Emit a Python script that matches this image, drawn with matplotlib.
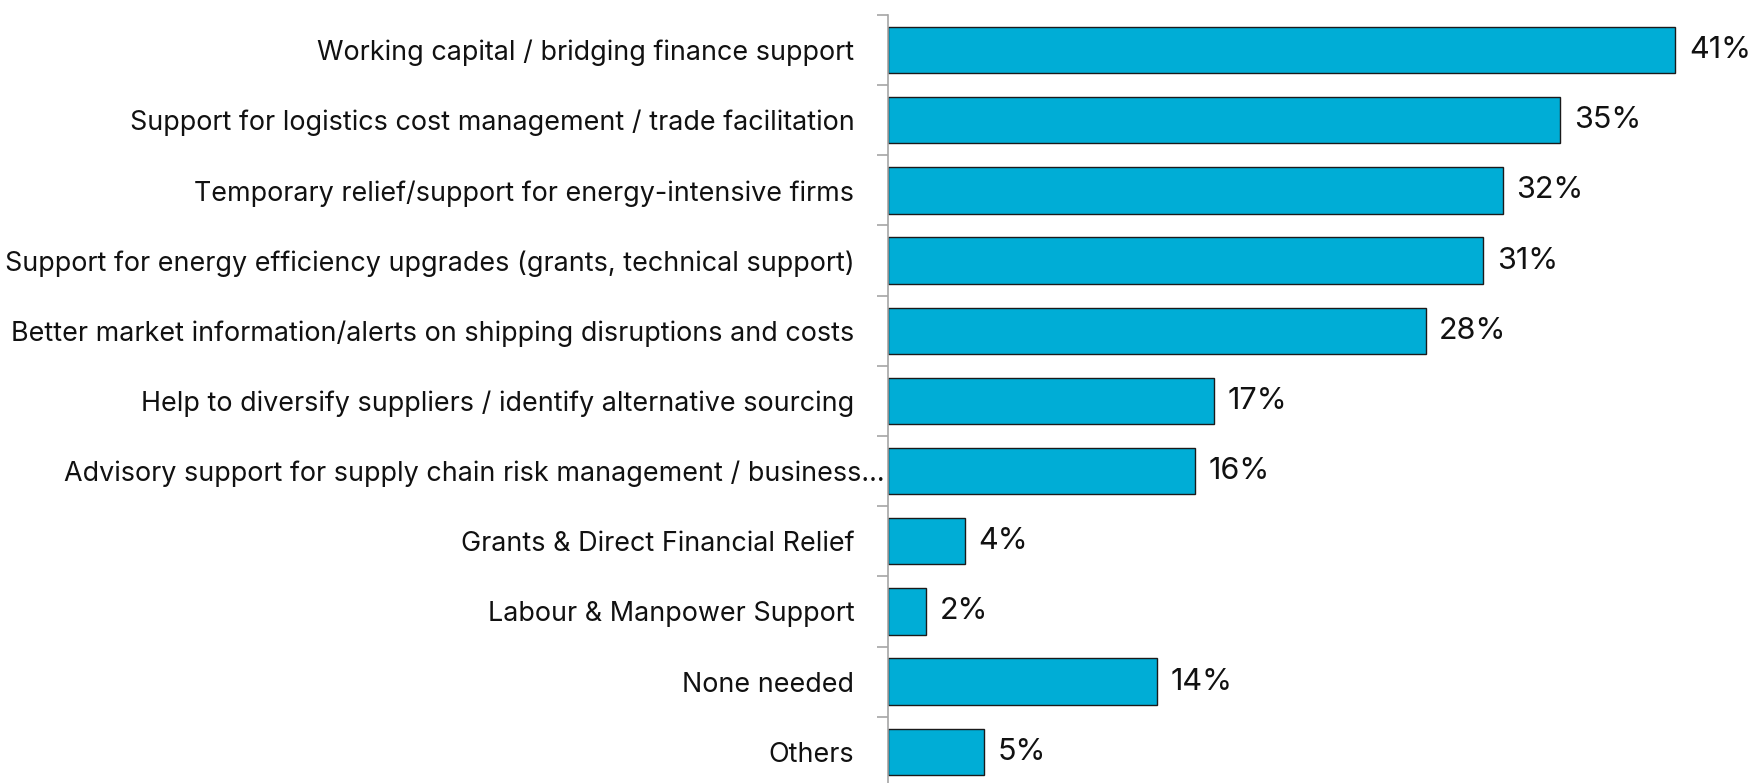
import matplotlib
matplotlib.use("Agg")
import matplotlib.pyplot as plt
from matplotlib.transforms import ScaledTranslation
import numpy as np

plt.rcParams["font.family"] = ["Inter", "DejaVu Sans"]

categories = [
    "Working capital / bridging finance support",
    "Support for logistics cost management / trade facilitation",
    "Temporary relief/support for energy-intensive firms",
    "Support for energy efficiency upgrades (grants, technical support)",
    "Better market information/alerts on shipping disruptions and costs",
    "Help to diversify suppliers / identify alternative sourcing",
    "Advisory support for supply chain risk management / business…",
    "Grants & Direct Financial Relief",
    "Labour & Manpower Support",
    "None needed",
    "Others",
]
values = [41, 35, 32, 31, 28, 17, 16, 4, 2, 14, 5]

BAR_COLOR = "#00ADD6"
AXIS_COLOR = "#A6A6A6"

fig = plt.figure(figsize=(17.58, 7.83), dpi=100)
ax = fig.add_axes([0.505, -0.005, 0.495, 0.986])

n = len(categories)
y = np.arange(n)
ax.barh(y, values, height=0.66, color=BAR_COLOR, edgecolor="#1a1a1a", linewidth=1.0)

for yi, v in zip(y, values):
    ax.text(v + 0.7, yi, f"{v}%", va="center", ha="left", fontsize=22, color="#111111")

ax.set_ylim(n - 0.5, -0.5)
ax.set_xlim(0, 45.3)

# boundary ticks between categories, labels on the centres
ax.set_yticks(np.arange(n + 1) - 0.5)
ax.set_yticklabels([])
ax.tick_params(axis="y", which="major", length=8, color=AXIS_COLOR, width=1.2)
ax.set_yticks(y, minor=True)
ax.set_yticklabels(categories, minor=True, fontsize=19.4, color="#111111")
ax.tick_params(axis="y", which="minor", length=0, pad=24)

# the truncated label sits closer to the axis
lbl = ax.get_yticklabels(minor=True)[6]
lbl.set_transform(lbl.get_transform() + ScaledTranslation(0.30, 0, fig.dpi_scale_trans))

for s in ["top", "right", "bottom"]:
    ax.spines[s].set_visible(False)
ax.spines["left"].set_color(AXIS_COLOR)
ax.spines["left"].set_linewidth(1.2)
ax.set_xticks([])

fig.savefig("out.png", dpi=100)
